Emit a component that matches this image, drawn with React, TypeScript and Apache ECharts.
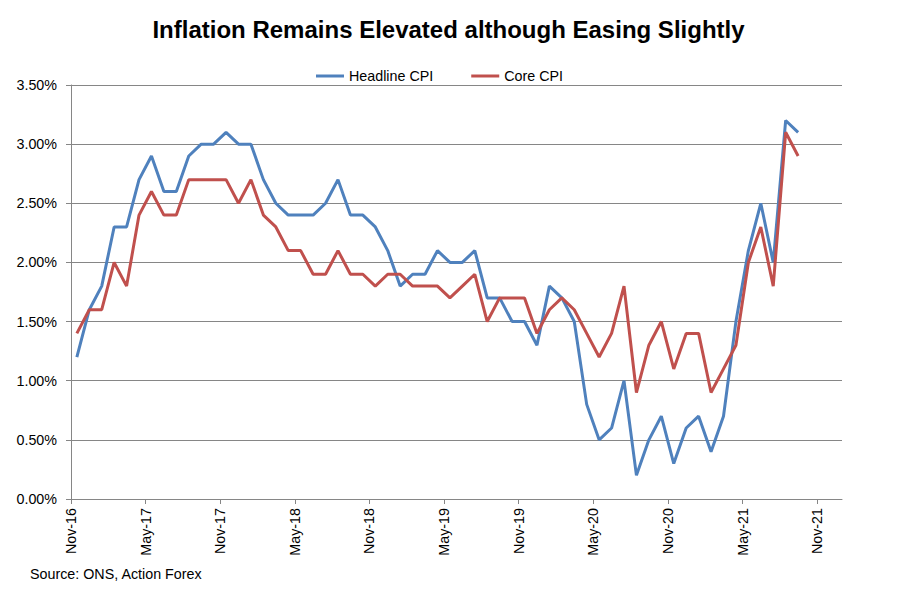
import React, { useEffect, useRef } from "react";
import * as echarts from "echarts";

const months = [
  "2016-11", "2016-12",
  "2017-01", "2017-02", "2017-03", "2017-04", "2017-05", "2017-06", "2017-07", "2017-08", "2017-09", "2017-10", "2017-11", "2017-12",
  "2018-01", "2018-02", "2018-03", "2018-04", "2018-05", "2018-06", "2018-07", "2018-08", "2018-09", "2018-10", "2018-11", "2018-12",
  "2019-01", "2019-02", "2019-03", "2019-04", "2019-05", "2019-06", "2019-07", "2019-08", "2019-09", "2019-10", "2019-11", "2019-12",
  "2020-01", "2020-02", "2020-03", "2020-04", "2020-05", "2020-06", "2020-07", "2020-08", "2020-09", "2020-10", "2020-11", "2020-12",
  "2021-01", "2021-02", "2021-03", "2021-04", "2021-05", "2021-06", "2021-07", "2021-08", "2021-09",
];

const headlineCPI = [
  1.2, 1.6,
  1.8, 2.3, 2.3, 2.7, 2.9, 2.6, 2.6, 2.9, 3.0, 3.0, 3.1, 3.0,
  3.0, 2.7, 2.5, 2.4, 2.4, 2.4, 2.5, 2.7, 2.4, 2.4, 2.3, 2.1,
  1.8, 1.9, 1.9, 2.1, 2.0, 2.0, 2.1, 1.7, 1.7, 1.5, 1.5, 1.3,
  1.8, 1.7, 1.5, 0.8, 0.5, 0.6, 1.0, 0.2, 0.5, 0.7, 0.3, 0.6,
  0.7, 0.4, 0.7, 1.5, 2.1, 2.5, 2.0, 3.2, 3.1,
];

const coreCPI = [
  1.4, 1.6,
  1.6, 2.0, 1.8, 2.4, 2.6, 2.4, 2.4, 2.7, 2.7, 2.7, 2.7, 2.5,
  2.7, 2.4, 2.3, 2.1, 2.1, 1.9, 1.9, 2.1, 1.9, 1.9, 1.8, 1.9,
  1.9, 1.8, 1.8, 1.8, 1.7, 1.8, 1.9, 1.5, 1.7, 1.7, 1.7, 1.4,
  1.6, 1.7, 1.6, 1.4, 1.2, 1.4, 1.8, 0.9, 1.3, 1.5, 1.1, 1.4,
  1.4, 0.9, 1.1, 1.3, 2.0, 2.3, 1.8, 3.1, 2.9,
];

const xTickLabels = [
  "Nov-16", "May-17", "Nov-17", "May-18", "Nov-18", "May-19",
  "Nov-19", "May-20", "Nov-20", "May-21", "Nov-21",
];

const seriesNames = ["Headline CPI", "Core CPI"];
const sourceText = "Source: ONS, Action Forex";
const titleText = "Inflation Remains Elevated although Easing Slightly";

// month position measured from the first axis month (Nov-2016), data dated mid-month
const monthPos = (m: string) => {
  const [y, mo] = m.split("-").map(Number);
  return (y - 2016) * 12 + (mo - 11) + 0.47;
};

const FONT = "'Liberation Sans', Arial, sans-serif";

export default function App() {
  const ref = useRef<HTMLDivElement>(null);
  useEffect(() => {
    if (!ref.current) return;
    const chart = echarts.init(ref.current, null, { renderer: "svg" });
    const tickVals = xTickLabels.map((_, i) => i * 6);
    chart.setOption({
      animation: false,
      backgroundColor: "#ffffff",
      textStyle: { fontFamily: FONT },
      title: {
        text: titleText,
        left: "center",
        top: 12,
        textStyle: { fontFamily: FONT, fontSize: 24, fontWeight: "bold", color: "#000" },
      },
      legend: {
        left: 311,
        top: 64,
        icon: "rect",
        itemWidth: 28,
        itemHeight: 3,
        itemGap: 38,
        textStyle: { fontFamily: FONT, fontSize: 14.3, color: "#000" },
        data: seriesNames,
      },
      graphic: [
        {
          type: "text",
          left: 30,
          top: 567,
          style: { text: sourceText, fontFamily: FONT, fontSize: 14.3, fill: "#000" },
        },
      ],
      grid: { left: 71, top: 85, right: 55, bottom: 101, containLabel: false },
      xAxis: {
        type: "value",
        min: 0,
        max: 62,
        interval: 6,
        axisLine: { show: true, lineStyle: { color: "#868686", width: 1 } },
        axisTick: { show: true, length: 5, inside: false, customValues: tickVals, lineStyle: { color: "#868686" } },
        splitLine: { show: false },
        axisLabel: {
          customValues: tickVals,
          rotate: 90,
          margin: 9,
          fontFamily: FONT,
          fontSize: 14.3,
          color: "#000",
          formatter: (v: number) => xTickLabels[Math.round(v / 6)] ?? "",
        },
      },
      yAxis: {
        type: "value",
        min: 0,
        max: 3.5,
        interval: 0.5,
        axisLine: { show: true, lineStyle: { color: "#868686", width: 1 } },
        axisTick: { show: true, length: 5, lineStyle: { color: "#868686" } },
        splitLine: { show: true, lineStyle: { color: "#868686", width: 1 } },
        axisLabel: {
          margin: 14,
          fontFamily: FONT,
          fontSize: 14.3,
          color: "#000",
          formatter: (v: number) => v.toFixed(2) + "%",
        },
      },
      series: [
        {
          name: seriesNames[0],
          type: "line",
          symbol: "none",
          lineStyle: { color: "#4F81BD", width: 3 },
          itemStyle: { color: "#4F81BD" },
          data: months.map((m, i) => [monthPos(m), headlineCPI[i]]),
          z: 3,
        },
        {
          name: seriesNames[1],
          type: "line",
          symbol: "none",
          lineStyle: { color: "#C0504D", width: 3 },
          itemStyle: { color: "#C0504D" },
          data: months.map((m, i) => [monthPos(m), coreCPI[i]]),
          z: 4,
        },
      ],
    });
    return () => chart.dispose();
  }, []);
  return <div ref={ref} style={{ position: "absolute", left: 0, top: 0, width: 897, height: 600 }} />;
}
